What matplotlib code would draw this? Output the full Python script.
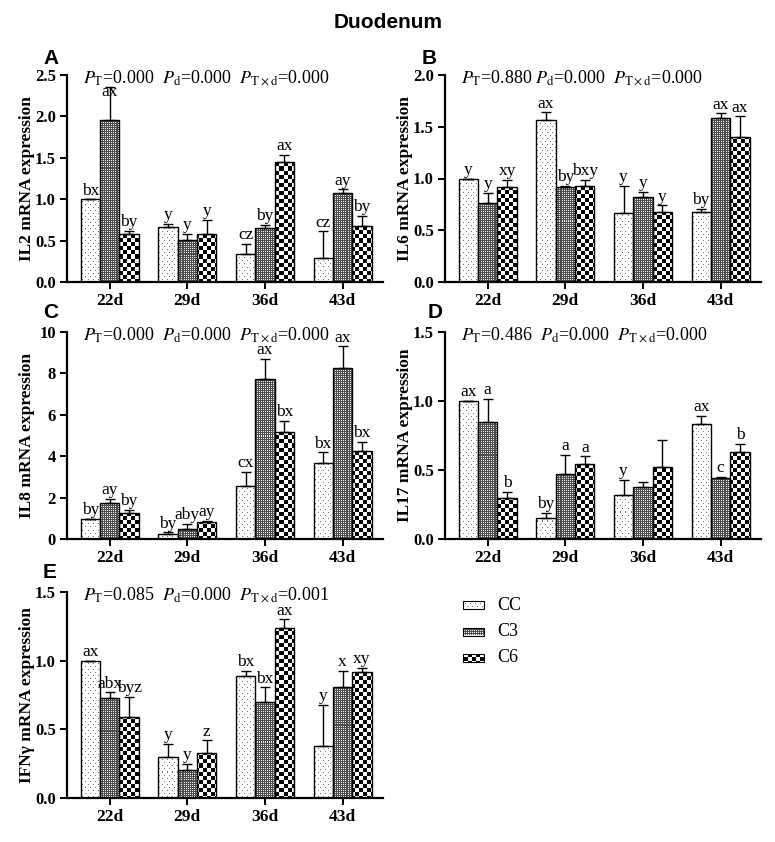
import numpy as np
import matplotlib
matplotlib.use('Agg')
import matplotlib.pyplot as plt
from matplotlib.patches import Rectangle

plt.rcParams['font.family'] = ['Liberation Serif', 'DejaVu Serif']
plt.rcParams['mathtext.fontset'] = 'stix'

# ---------------- data ----------------
days = ['22d', '29d', '36d', '43d']
groups = ['CC', 'C3', 'C6']

# IL2
il2_mean = [[1.00, 0.66, 0.34, 0.29], [1.96, 0.51, 0.65, 1.07], [0.58, 0.58, 1.455, 0.68]]
il2_sem = [[0.00, 0.04, 0.12, 0.32], [0.40, 0.07, 0.04, 0.05], [0.04, 0.17, 0.08, 0.12]]
il2_lab = [['bx', 'y', 'cz', 'cz'], ['ax', 'y', 'by', 'ay'], ['by', 'y', 'ax', 'by']]
il2_p = r'$\mathit{P}_{\mathrm{T}}$=0.000  $\mathit{P}_{\mathrm{d}}$=0.000  $\mathit{P}_{\mathrm{T\times d}}$=0.000'

# IL6
il6_mean = [[1.00, 1.57, 0.67, 0.675], [0.76, 0.92, 0.82, 1.58], [0.92, 0.93, 0.675, 1.40]]
il6_sem = [[0.00, 0.07, 0.26, 0.035], [0.10, 0.01, 0.05, 0.05], [0.07, 0.06, 0.065, 0.20]]
il6_lab = [['y', 'ax', 'y', 'by'], ['y', 'by', 'y', 'ax'], ['xy', 'bxy', 'y', 'ax']]
il6_p = r'$\mathit{P}_{\mathrm{T}}$=0.880 $\mathit{P}_{\mathrm{d}}$=0.000  $\mathit{P}_{\mathrm{T\times d}}$=0.000'

# IL8
il8_mean = [[0.97, 0.23, 2.56, 3.66], [1.73, 0.50, 7.74, 8.26], [1.24, 0.81, 5.19, 4.26]]
il8_sem = [[0.00, 0.09, 0.67, 0.53], [0.21, 0.23, 0.97, 1.05], [0.16, 0.06, 0.52, 0.45]]
il8_lab = [['by', 'by', 'cx', 'bx'], ['ay', 'aby', 'ax', 'ax'], ['by', 'ay', 'bx', 'bx']]
il8_p = r'$\mathit{P}_{\mathrm{T}}$=0.000  $\mathit{P}_{\mathrm{d}}$=0.000  $\mathit{P}_{\mathrm{T\times d}}$=0.000'

# IL17
il17_mean = [[1.00, 0.155, 0.32, 0.83], [0.85, 0.47, 0.375, 0.44], [0.295, 0.54, 0.52, 0.63]]
il17_sem = [[0.00, 0.035, 0.11, 0.06], [0.166, 0.14, 0.035, 0.01], [0.045, 0.06, 0.20, 0.06]]
il17_lab = [['ax', 'by', 'y', 'ax'], ['a', 'a', '', 'c'], ['b', 'a', '', 'b']]
il17_p = r'$\mathit{P}_{\mathrm{T}}$=0.486  $\mathit{P}_{\mathrm{d}}$=0.000  $\mathit{P}_{\mathrm{T\times d}}$=0.000'

# IFNγ
ifn_mean = [[1.00, 0.30, 0.89, 0.376], [0.73, 0.205, 0.70, 0.81], [0.59, 0.33, 1.24, 0.915]]
ifn_sem = [[0.00, 0.095, 0.037, 0.30], [0.04, 0.045, 0.105, 0.117], [0.145, 0.09, 0.06, 0.032]]
ifn_lab = [['ax', 'y', 'bx', 'y'], ['abx', 'y', 'bx', 'x'], ['byz', 'z', 'ax', 'xy']]
ifn_p = r'$\mathit{P}_{\mathrm{T}}$=0.085  $\mathit{P}_{\mathrm{d}}$=0.000  $\mathit{P}_{\mathrm{T\times d}}$=0.001'

# ---------------- figure ----------------
W, H = 775, 842
fig = plt.figure(figsize=(W / 100, H / 100), dpi=100)


def add_ax(l, t, r, b):
    return fig.add_axes([l / W, 1 - b / H, (r - l) / W, (b - t) / H])


def pattern(kind, w, h):
    yy, xx = np.mgrid[0:h, 0:w]
    img = np.ones((h, w, 3))
    if kind == 'CC':
        m = ((xx % 5 == 0) & (yy % 6 == 0)) | ((xx % 5 == 2) & (yy % 6 == 3))
        img[m] = [0.45, 0.45, 0.45]
    elif kind == 'C3':
        img[:] = [0.3, 0.3, 0.3]
        m = (xx % 2 == 0) & (yy % 2 == 0)
        img[m] = [0.95, 0.95, 0.95]
    else:
        m = ((xx // 4) + (yy // 4)) % 2 == 0
        img[m] = [0.0, 0.0, 0.0]
    return img


def fill_patch(ax, patch, kind):
    bb = ax.bbox
    w, h = int(round(bb.width)), int(round(bb.height))
    im = ax.imshow(pattern(kind, w, h), extent=(0, 1, 0, 1), transform=ax.transAxes,
                   interpolation='nearest', aspect='auto', zorder=2)
    im.set_clip_path(patch)


bw = 0.25
offsets = [-bw, 0, bw]


def panel(ax, means, sems, labs, ptext, ymax, ystep, ylabel, fmt):
    x = np.arange(len(days))
    for gi, g in enumerate(groups):
        bars = ax.bar(x + offsets[gi], means[gi], width=bw, facecolor='none',
                      edgecolor='black', linewidth=1.0, zorder=3)
        for b in bars:
            fill_patch(ax, b, g)
        ax.errorbar(x + offsets[gi], means[gi], yerr=[np.zeros(4), sems[gi]], fmt='none',
                    ecolor='black', elinewidth=1.0, capsize=3.5, capthick=1.0, zorder=4)
        for di in range(len(days)):
            top = means[gi][di] + sems[gi][di]
            if top > 0.94 * ymax:
                top = 0.875 * ymax
            ax.annotate(labs[gi][di], (x[di] + offsets[gi], top), xytext=(0, 0.5),
                        textcoords='offset points', ha='center', va='bottom', fontsize=12.5, zorder=5)
    ax.set_xlim(-0.55, 3.52)
    ax.set_ylim(0, ymax)
    ax.set_xticks(x)
    ax.set_xticklabels(days, fontsize=12.5, fontweight='bold')
    ticks = np.arange(0, ymax + ystep / 2, ystep)
    ax.set_yticks(ticks)
    ax.set_yticklabels([fmt.format(t) for t in ticks], fontsize=12, fontweight='bold')
    for s in ['top', 'right']:
        ax.spines[s].set_visible(False)
    for s in ['left', 'bottom']:
        ax.spines[s].set_linewidth(1.6)
    ax.tick_params(axis='both', width=1.4, length=5, direction='out', pad=3)
    ax.set_ylabel(ylabel, fontsize=12.5, fontweight='bold')
    ax.yaxis.set_label_coords(-0.1, 0.5)
    ax.text(0.05, 0.985, ptext, transform=ax.transAxes, ha='left', va='center', fontsize=13)


axA = add_ax(67, 75, 383, 282)
axB = add_ax(445, 75, 761, 282)
axC = add_ax(67, 332, 383, 539)
axD = add_ax(445, 332, 761, 539)
axE = add_ax(67, 592, 383, 798)

panel(axA, il2_mean, il2_sem, il2_lab, il2_p, 2.5, 0.5, 'IL2 mRNA expression', '{:.1f}')
panel(axB, il6_mean, il6_sem, il6_lab, il6_p, 2.0, 0.5, 'IL6 mRNA expression', '{:.1f}')
panel(axC, il8_mean, il8_sem, il8_lab, il8_p, 10, 2, 'IL8 mRNA expression', '{:.0f}')
panel(axD, il17_mean, il17_sem, il17_lab, il17_p, 1.5, 0.5, 'IL17 mRNA expression', '{:.1f}')
panel(axE, ifn_mean, ifn_sem, ifn_lab, ifn_p, 1.5, 0.5, 'IFN\u03b3 mRNA expression', '{:.1f}')

# panel letters
for letter, (px, py) in zip('ABCDE', [(43, 58), (422, 58), (43, 312), (428, 312), (43, 573)]):
    fig.text(px / W, 1 - py / H, letter, fontsize=15, fontweight='bold',
             family=['Liberation Sans', 'DejaVu Sans'], ha='left', va='center')

# title
fig.text(388 / W, 1 - 23 / H, 'Duodenum', fontsize=15, fontweight='bold',
         family=['Liberation Sans', 'DejaVu Sans'], ha='center', va='center')

# legend
axL = add_ax(440, 585, 560, 675)
axL.set_xlim(440, 560)
axL.set_ylim(675, 585)
axL.axis('off')
for gi, g in enumerate(groups):
    yc = 605 + gi * 26.5
    r = Rectangle((463, yc - 4), 21, 8, facecolor='none', edgecolor='black', linewidth=0.8, zorder=3)
    axL.add_patch(r)
    fill_patch(axL, r, g)
    axL.text(497, yc, g, fontsize=13, ha='left', va='center')
axL.set_xlim(440, 560)
axL.set_ylim(675, 585)

fig.savefig('out.png', dpi=100)
